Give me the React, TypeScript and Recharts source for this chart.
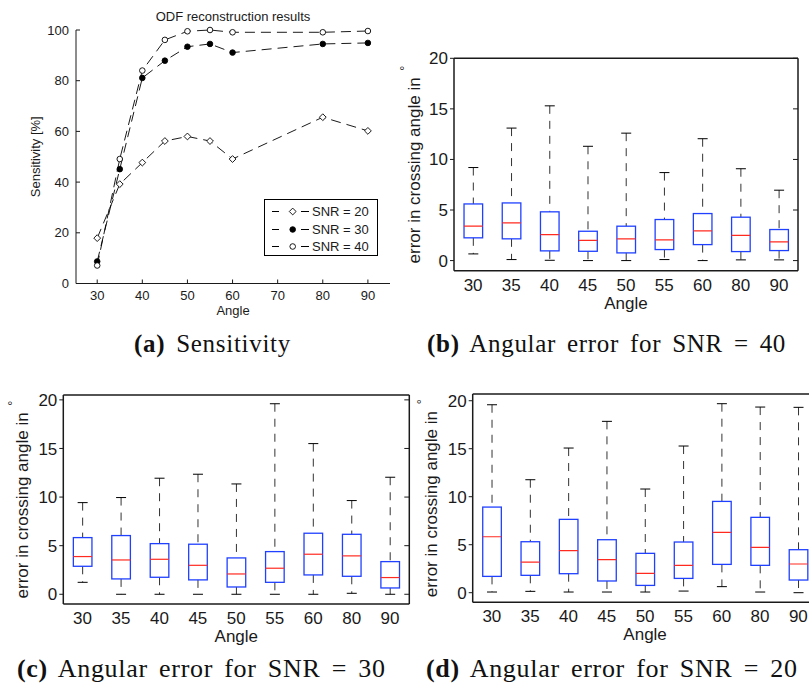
import React from "react";
import { Bar, ComposedChart, Legend, Line, LineChart, XAxis, YAxis } from "recharts";

// categories + ticks
const angles = [30, 35, 40, 45, 50, 55, 60, 80, 90];
const angleTicks = [30, 40, 50, 60, 70, 80, 90];
const sensTicks = [0, 20, 40, 60, 80, 100];
const errTicks = [0, 5, 10, 15, 20];

// (a) sensitivity [%]
const sens20 = [17.9, 39.2, 47.7, 56.2, 58, 56.2, 49.1, 65.6, 60.2];
const sens30 = [8.7, 45.1, 81.1, 87.9, 93.4, 94.5, 91.1, 94.5, 94.9];
const sens40 = [7.1, 49.1, 84, 96.1, 99.5, 100, 99.1, 99.1, 99.6];

// (b) angular error, SNR = 40
const snr40Low = [0.66, 0.1, 0.03, 0, 0, 0.1, 0, 0.07, 0.07];
const snr40Q1 = [2.25, 2.15, 0.96, 0.92, 0.76, 1.09, 1.58, 0.89, 0.99];
const snr40Med = [3.4, 3.73, 2.57, 2.0, 2.15, 2.05, 2.94, 2.5, 1.85];
const snr40Q3 = [5.6, 5.7, 4.82, 2.9, 3.4, 4.06, 4.65, 4.29, 3.07];
const snr40High = [9.2, 13.1, 15.3, 11.3, 12.6, 8.7, 12.05, 9.08, 6.96];

// (c) angular error, SNR = 30
const snr30Low = [1.23, 0, 0, 0, 0, 0, 0, 0.1, 0];
const snr30Q1 = [2.88, 1.58, 1.75, 1.48, 0.75, 1.23, 1.99, 1.85, 0.65];
const snr30Med = [3.88, 3.53, 3.6, 2.98, 2.09, 2.68, 4.12, 3.95, 1.72];
const snr30Q3 = [5.83, 6.04, 5.21, 5.15, 3.74, 4.39, 6.28, 6.17, 3.36];
const snr30High = [9.43, 9.95, 11.94, 12.35, 11.35, 19.6, 15.5, 9.64, 12.04];

// (d) angular error, SNR = 20
const snr20Low = [0.07, 0.14, 0.07, 0.07, 0.07, 0.17, 0.63, 0.07, 0];
const snr20Q1 = [1.7, 1.81, 1.98, 1.22, 0.76, 1.49, 2.95, 2.85, 1.32];
const snr20Med = [5.83, 3.19, 4.38, 3.44, 2.01, 2.85, 6.28, 4.72, 2.99];
const snr20Q3 = [8.92, 5.31, 7.64, 5.52, 4.1, 5.28, 9.51, 7.85, 4.48];
const snr20High = [19.58, 11.77, 15.07, 17.85, 10.8, 15.28, 19.69, 19.34, 19.31];

const SANS = '"Liberation Sans", Arial, sans-serif';
const SERIF = '"Liberation Serif", "Times New Roman", serif';
const INK = "#1a1a1a";
const BLUE = "#2040ff";
const RED = "#ff2a1f";

const sensRows = angles.map((a, i) => ({ angle: a, s20: sens20[i], s30: sens30[i], s40: sens40[i] }));

type BoxRow = { angle: string; low: number; q1: number; med: number; q3: number; high: number };

function boxRows(low: number[], q1: number[], med: number[], q3: number[], high: number[]): BoxRow[] {
  return angles.map((a, i) => ({
    angle: String(a),
    low: low[i],
    q1: q1[i],
    med: med[i],
    q3: q3[i],
    high: high[i],
  }));
}

type MarkerKind = "diamond" | "filled" | "open";

const series: { key: string; name: string; marker: MarkerKind }[] = [
  { key: "s20", name: "SNR = 20", marker: "diamond" },
  { key: "s30", name: "SNR = 30", marker: "filled" },
  { key: "s40", name: "SNR = 40", marker: "open" },
];

function Marker({ cx, cy, kind }: { cx: number; cy: number; kind: MarkerKind }) {
  if (kind === "diamond") {
    const r = 3.4;
    return (
      <polygon
        points={`${cx},${cy - r} ${cx + r},${cy} ${cx},${cy + r} ${cx - r},${cy}`}
        fill="#fff"
        stroke="#000"
        strokeWidth={0.9}
      />
    );
  }
  return (
    <circle
      cx={cx}
      cy={cy}
      r={2.8}
      fill={kind === "filled" ? "#000" : "#fff"}
      stroke="#000"
      strokeWidth={0.9}
    />
  );
}

function SnrLegend() {
  return (
    <div
      style={{
        border: "1px solid #000",
        background: "#fff",
        width: 114,
        height: 57,
        paddingTop: 3,
        boxSizing: "border-box",
        fontFamily: SANS,
        fontSize: 13,
        color: INK,
      }}
    >
      {series.map((s) => (
        <div key={s.key} style={{ display: "flex", alignItems: "center", height: 17.6 }}>
          <svg width={47} height={17} style={{ display: "block" }}>
            <line x1={7} x2={14} y1={8.5} y2={8.5} stroke="#000" />
            <line x1={36} x2={44} y1={8.5} y2={8.5} stroke="#000" />
            <Marker cx={27.7} cy={8.5} kind={s.marker} />
          </svg>
          <span style={{ lineHeight: "17px" }}>{s.name}</span>
        </div>
      ))}
    </div>
  );
}

// inward ticks for panel (a)
function InLeftTick(p: any) {
  return (
    <g>
      <line x1={p.x + 7} x2={p.x + 11} y1={p.y} y2={p.y} stroke={INK} />
      <text x={p.x} y={p.y} dy="0.35em" textAnchor="end" fontSize={13} fill={INK} fontFamily={SANS}>
        {p.payload.value}
      </text>
    </g>
  );
}

function InBottomTick(p: any) {
  return (
    <g>
      <line x1={p.x} x2={p.x} y1={p.y - 7} y2={p.y - 11} stroke={INK} />
      <text x={p.x} y={p.y} dy="0.71em" textAnchor="middle" fontSize={13} fill={INK} fontFamily={SANS}>
        {p.payload.value}
      </text>
    </g>
  );
}

function RightInTick(p: any) {
  return <line x1={p.x} x2={p.x - 5} y1={p.y} y2={p.y} stroke={INK} />;
}

function BottomLabel({ viewBox, text, dy, size }: any) {
  return (
    <text
      x={viewBox.x + viewBox.width / 2}
      y={viewBox.y + dy}
      dy="0.36em"
      textAnchor="middle"
      fontSize={size}
      fill={INK}
      fontFamily={SANS}
    >
      {text}
    </text>
  );
}

function SideLabel({ viewBox, text, dx, size, degree }: any) {
  const x = viewBox.x + dx;
  const y = viewBox.y + viewBox.height / 2;
  return (
    <text
      x={x}
      y={y}
      transform={`rotate(-90 ${x} ${y})`}
      textAnchor="middle"
      fontSize={size}
      fill={INK}
      fontFamily={SANS}
    >
      {text}
      {degree && (
        <tspan dy="-0.85em" dx="2" fontSize={size * 0.75}>
          °
        </tspan>
      )}
    </text>
  );
}

function BoxShape(props: any) {
  const { x, y, width, height, payload } = props;
  const cx = x + width / 2;
  const top = Math.min(y, y + height);
  const bottom = Math.max(y, y + height);
  const span = payload.high - payload.low;
  const toY = (v: number) => bottom - ((bottom - top) * (v - payload.low)) / span;
  const yq1 = toY(payload.q1);
  const yq3 = toY(payload.q3);
  const ymed = toY(payload.med);
  const bw = 9.3;
  const cap = 5;
  return (
    <g>
      <line x1={cx} x2={cx} y1={top} y2={yq3} stroke="#333" strokeDasharray="8 7" />
      <line x1={cx} x2={cx} y1={yq1} y2={bottom} stroke="#333" strokeDasharray="8 7" />
      <line x1={cx - cap} x2={cx + cap} y1={top} y2={top} stroke="#000" />
      <line x1={cx - cap} x2={cx + cap} y1={bottom} y2={bottom} stroke="#000" />
      <rect x={cx - bw} y={yq3} width={bw * 2} height={yq1 - yq3} fill="none" stroke={BLUE} strokeWidth={1.3} />
      <line x1={cx - bw} x2={cx + bw} y1={ymed} y2={ymed} stroke={RED} strokeWidth={1.2} />
    </g>
  );
}

type PanelProps = {
  rows: BoxRow[];
  yTop: number;
  left: number;
  top: number;
  width: number;
  height: number;
  margin: { top: number; right: number; bottom: number; left: number };
  axisWidth: number;
  labelDx: number;
};

function BoxPanel({ rows, yTop, left, top, width, height, margin, axisWidth, labelDx }: PanelProps) {
  const frame = { stroke: INK, strokeWidth: 1.5 };
  return (
    <div style={{ position: "absolute", left, top }}>
      <ComposedChart width={width} height={height} data={rows} margin={margin}>
        <XAxis
          xAxisId="b"
          dataKey="angle"
          height={40}
          interval={0}
          tickLine={false}
          tickSize={0}
          tickMargin={8}
          axisLine={frame}
          tick={{ fill: INK, fontSize: 17, fontFamily: SANS }}
          label={<BottomLabel text="Angle" dy={32} size={17} />}
        />
        <XAxis xAxisId="t" dataKey="angle" orientation="top" height={1} tick={false} tickLine={false} axisLine={frame} />
        <YAxis
          yAxisId="l"
          type="number"
          domain={[-1, yTop]}
          ticks={errTicks}
          interval={0}
          allowDataOverflow
          width={axisWidth}
          tickSize={4}
          tickMargin={2}
          tickLine={{ stroke: INK }}
          axisLine={frame}
          tick={{ fill: INK, fontSize: 17, fontFamily: SANS }}
          label={<SideLabel text="error in crossing angle in " dx={labelDx} size={17} degree />}
        />
        <YAxis
          yAxisId="r"
          orientation="right"
          type="number"
          domain={[-1, yTop]}
          ticks={errTicks}
          interval={0}
          allowDataOverflow
          width={1}
          tickSize={0}
          tickMargin={0}
          tickLine={false}
          axisLine={frame}
          tick={RightInTick}
        />
        <Bar
          xAxisId="b"
          yAxisId="l"
          dataKey={(d: BoxRow) => [d.low, d.high]}
          shape={BoxShape}
          isAnimationActive={false}
        />
      </ComposedChart>
    </div>
  );
}

function Caption({ tag, text, left, top, size }: { tag: string; text: string; left: number; top: number; size: number }) {
  return (
    <div
      style={{
        position: "absolute",
        left,
        top,
        fontFamily: SERIF,
        fontSize: size,
        lineHeight: `${size}px`,
        letterSpacing: 0.7,
        wordSpacing: 4,
        whiteSpace: "nowrap",
        color: "#111",
      }}
    >
      <b>{tag}</b> {text}
    </div>
  );
}

export default function App() {
  return (
    <div
      style={{
        position: "absolute",
        left: 0,
        top: 0,
        width: 809,
        height: 686,
        overflow: "hidden",
        background: "#fff",
      }}
    >
      {/* (a) sensitivity */}
      <div style={{ position: "absolute", left: 0, top: 0 }}>
        <LineChart width={400} height={330} data={sensRows} margin={{ top: 30, right: 10, bottom: 6.5, left: 0 }}>
          <XAxis
            dataKey="angle"
            type="number"
            domain={[25.3, 94.9]}
            ticks={angleTicks}
            interval={0}
            allowDataOverflow
            height={40}
            tickSize={0}
            tickMargin={7}
            tickLine={false}
            axisLine={{ stroke: INK }}
            tick={InBottomTick}
            label={<BottomLabel text="Angle" dy={27} size={13} />}
          />
          <YAxis
            type="number"
            domain={[0, 100]}
            ticks={sensTicks}
            interval={0}
            width={76}
            tickSize={0}
            tickMargin={7}
            tickLine={false}
            axisLine={{ stroke: INK }}
            tick={InLeftTick}
            label={<SideLabel text="Sensitivity [%]" dx={40} size={13} />}
          />
          <Legend
            layout="vertical"
            align="center"
            verticalAlign="middle"
            content={() => <SnrLegend />}
            wrapperStyle={{ left: 264, top: 199, width: 116, height: 59 }}
          />
          {series.map((s) => (
            <Line
              key={s.key}
              dataKey={s.key}
              name={s.name}
              stroke="#000"
              strokeWidth={0.9}
              strokeDasharray="10 6"
              dot={(p: any) => <Marker key={`${s.key}-${p.index}`} cx={p.cx} cy={p.cy} kind={s.marker} />}
              isAnimationActive={false}
            />
          ))}
        </LineChart>
      </div>
      <div
        style={{
          position: "absolute",
          left: 133,
          top: 9.5,
          width: 200,
          textAlign: "center",
          fontFamily: SANS,
          fontSize: 13,
          lineHeight: "13px",
          color: INK,
        }}
      >
        ODF reconstruction results
      </div>

      <BoxPanel
        rows={boxRows(snr40Low, snr40Q1, snr40Med, snr40Q3, snr40High)}
        yTop={20}
        left={390}
        top={40}
        width={419}
        height={280}
        margin={{ top: 17.3, right: 10, bottom: 9.3, left: 0 }}
        axisWidth={64}
        labelDx={30}
      />
      <BoxPanel
        rows={boxRows(snr30Low, snr30Q1, snr30Med, snr30Q3, snr30High)}
        yTop={20.5}
        left={0}
        top={380}
        width={420}
        height={270}
        margin={{ top: 14, right: 9.7, bottom: 6, left: 0 }}
        axisWidth={63.3}
        labelDx={28}
      />
      <BoxPanel
        rows={boxRows(snr20Low, snr20Q1, snr20Med, snr20Q3, snr20High)}
        yTop={20.7}
        left={400}
        top={380}
        width={430}
        height={270}
        margin={{ top: 13, right: 11.5, bottom: 7.7, left: 0 }}
        axisWidth={72.7}
        labelDx={37}
      />

      <Caption tag="(a)" text="Sensitivity" left={134} top={331} size={25} />
      <Caption tag="(b)" text="Angular error for SNR = 40" left={427} top={331} size={25} />
      <Caption tag="(c)" text="Angular error for SNR = 30" left={17} top={656} size={26} />
      <Caption tag="(d)" text="Angular error for SNR = 20" left={426} top={656} size={26} />
    </div>
  );
}
